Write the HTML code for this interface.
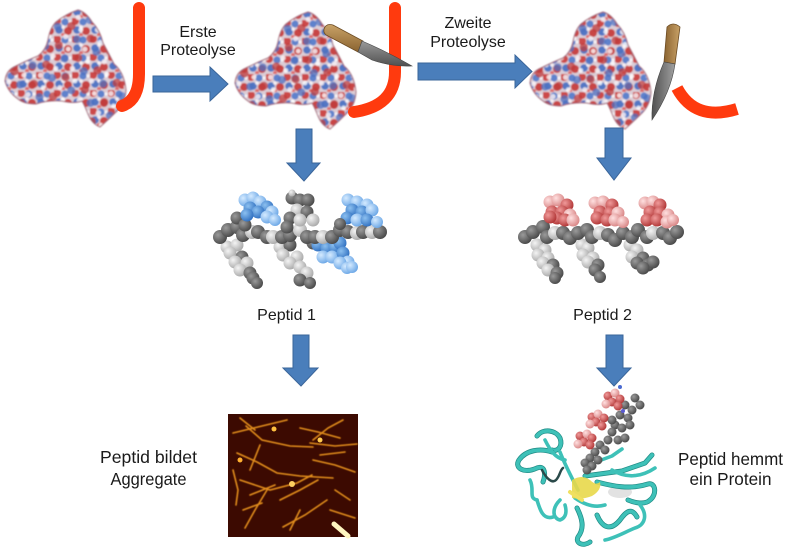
<!DOCTYPE html>
<html><head><meta charset="utf-8">
<style>
html,body{margin:0;padding:0;background:#fff;}
svg{display:block;}
.t{font-family:"Liberation Sans",Arial,sans-serif;font-size:16px;fill:#1a1a1a;}
.c{font-family:"Liberation Sans",Arial,sans-serif;font-size:17.5px;fill:#1a1a1a;}
.d{fill:url(#gD)}.l{fill:url(#gL)}.b{fill:url(#gB)}.bl{fill:url(#gBl)}.r{fill:url(#gR)}.p{fill:url(#gP)}
.rib{fill:none;stroke:#3ec1b8;stroke-width:3.6;stroke-linecap:round;stroke-linejoin:round}
.ribd{fill:none;stroke:#1f8a84;stroke-width:5;stroke-linecap:round;stroke-linejoin:round}
.fib{fill:none;stroke:#e08c1c;stroke-width:1.6;stroke-linecap:round}
</style></head><body>
<svg width="800" height="556" viewBox="0 0 800 556" xmlns="http://www.w3.org/2000/svg">
<defs>
<radialGradient id="gD" cx="35%" cy="35%" r="70%"><stop offset="0" stop-color="#9a9a9a"/><stop offset="1" stop-color="#474747"/></radialGradient>
<radialGradient id="gL" cx="35%" cy="35%" r="70%"><stop offset="0" stop-color="#f4f4f4"/><stop offset="1" stop-color="#a8a8a8"/></radialGradient>
<radialGradient id="gB" cx="35%" cy="35%" r="70%"><stop offset="0" stop-color="#8cc0f0"/><stop offset="1" stop-color="#2f6fc0"/></radialGradient>
<radialGradient id="gBl" cx="35%" cy="35%" r="70%"><stop offset="0" stop-color="#d4eaff"/><stop offset="1" stop-color="#6aa6e6"/></radialGradient>
<radialGradient id="gR" cx="35%" cy="35%" r="70%"><stop offset="0" stop-color="#f09a9a"/><stop offset="1" stop-color="#b03434"/></radialGradient>
<radialGradient id="gP" cx="35%" cy="35%" r="70%"><stop offset="0" stop-color="#ffe0e0"/><stop offset="1" stop-color="#d88484"/></radialGradient>
<linearGradient id="hand" x1="0" y1="0" x2="0" y2="1"><stop offset="0" stop-color="#c9a267"/><stop offset="1" stop-color="#8a6330"/></linearGradient>
<linearGradient id="blade" x1="0" y1="0" x2="0" y2="1"><stop offset="0" stop-color="#9a9a9a"/><stop offset="1" stop-color="#505050"/></linearGradient>
<linearGradient id="hand2" x1="0" y1="0" x2="1" y2="0"><stop offset="0" stop-color="#8a6330"/><stop offset="1" stop-color="#c9a267"/></linearGradient>
<linearGradient id="blade2" x1="0" y1="0" x2="1" y2="0"><stop offset="0" stop-color="#505050"/><stop offset="1" stop-color="#a0a0a0"/></linearGradient>
<pattern id="pa" width="18" height="18" patternUnits="userSpaceOnUse">
<rect width="18" height="18" fill="#dccdd6"/>
<circle cx="3" cy="3" r="4" fill="#cc4848"/>
<circle cx="11" cy="4" r="3.6" fill="#5f82cc"/>
<circle cx="5" cy="12" r="3.8" fill="#5377c4"/>
<circle cx="14" cy="13" r="4" fill="#c84545"/>
<circle cx="16" cy="4" r="1.6" fill="#f6f2f4"/>
<circle cx="9" cy="17" r="2" fill="#de6c6c"/>
<circle cx="9" cy="9" r="1.8" fill="#f4eef2"/>
</pattern>
<pattern id="pb" width="23" height="23" patternUnits="userSpaceOnUse" patternTransform="rotate(33)">
<circle cx="5" cy="6" r="4.2" fill="#bf3a3a" opacity=".75"/>
<circle cx="17" cy="14" r="4" fill="#4d70c0" opacity=".75"/>
<circle cx="15" cy="4" r="2.4" fill="#fff" opacity=".8"/>
<circle cx="6" cy="18" r="2.6" fill="#f6eef2" opacity=".85"/>
</pattern>
<path id="blob" d="M78,10 Q86,12 92,22 Q100,30 103,43 Q108,52 114,64 Q124,72 126,90 Q125,104 116,112 Q108,120 100,127 Q92,124 88,114 Q84,104 82,101 Q74,104 62,101 Q48,100 36,104 Q24,104 18,99 Q8,92 5,81 Q6,70 16,66 Q28,60 38,56 Q46,50 48,40 Q50,28 56,22 Q66,14 78,10 Z"/>
<filter id="soft" x="-5%" y="-5%" width="110%" height="110%"><feGaussianBlur stdDeviation="0.7"/></filter>
<filter id="blur1" x="-10%" y="-10%" width="120%" height="120%"><feGaussianBlur stdDeviation="0.5"/></filter>
</defs>
<rect width="800" height="556" fill="#fff"/>

<!-- Proteins -->
<g filter="url(#soft)">
<use href="#blob" fill="url(#pa)"/>
<use href="#blob" fill="url(#pb)"/>
<use href="#blob" fill="none" stroke="#a06474" stroke-width="1"/>
</g>
<g transform="translate(230,2)" filter="url(#soft)">
<use href="#blob" fill="url(#pa)"/>
<use href="#blob" fill="url(#pb)"/>
<use href="#blob" fill="none" stroke="#a06474" stroke-width="1"/>
</g>
<g transform="translate(525,2)" filter="url(#soft)">
<use href="#blob" fill="url(#pa)"/>
<use href="#blob" fill="url(#pb)"/>
<use href="#blob" fill="none" stroke="#a06474" stroke-width="1"/>
</g>

<!-- Red peptide chains -->
<path d="M139,8 L139,74 Q139,100 122,106" fill="none" stroke="#ff3a0e" stroke-width="12" stroke-linecap="round"/>
<path d="M395,8 L395,72 Q395,106 354,112" fill="none" stroke="#ff3a0e" stroke-width="12" stroke-linecap="round"/>
<path d="M677,88 Q695,122 737,109" fill="none" stroke="#ff3a0e" stroke-width="12"/>

<!-- Knife 1 -->
<path d="M324,29 Q326,23 333,25 L363,41 L358,52 L328,36 Q323,34 324,29 Z" fill="url(#hand)" stroke="#6b4a22" stroke-width="0.8"/>
<path d="M362,41 Q388,52 412,66 Q392,67 372,60 L358,52 Z" fill="url(#blade)" stroke="#444" stroke-width="0.6"/>
<!-- Knife 2 -->
<path d="M667,27 Q673,21 680,27 L675,64 L664,62 Z" fill="url(#hand2)" stroke="#6b4a22" stroke-width="0.8"/>
<path d="M664,62 L675,64 Q671,92 652,120 Q651,92 664,62 Z" fill="url(#blade2)" stroke="#444" stroke-width="0.6"/>

<!-- Arrows -->
<g fill="#4a7ebb" stroke="#3a659a" stroke-width="1">
<polygon points="153,76 210,76 210,67 228,84 210,101 210,92 153,92"/>
<polygon points="418,63 515,63 515,55 532,71.5 515,88 515,80 418,80"/>
<polygon points="296,129 312,129 312,163 320,163 304,181 287,163 296,163"/>
<polygon points="293,335 309,335 309,368 318,368 301,386 283,368 293,368"/>
<polygon points="605,128 623,128 623,158 631,158 614,180 597,158 605,158"/>
<polygon points="606,335 623,335 623,368 631,368 614,386 597,368 606,368"/>
</g>

<!-- Labels -->
<text class="t" x="198" y="37" text-anchor="middle">Erste</text>
<text class="t" x="198" y="55" text-anchor="middle">Proteolyse</text>
<text class="t" x="468" y="28" text-anchor="middle">Zweite</text>
<text class="t" x="468" y="47" text-anchor="middle">Proteolyse</text>
<text class="t" x="286.5" y="320" text-anchor="middle">Peptid 1</text>
<text class="t" x="602.5" y="320" text-anchor="middle">Peptid 2</text>
<text class="c" x="148.5" y="463" text-anchor="middle" textLength="97" lengthAdjust="spacingAndGlyphs">Peptid bildet</text>
<text class="c" x="148.5" y="485" text-anchor="middle" textLength="76" lengthAdjust="spacingAndGlyphs">Aggregate</text>
<text class="c" x="730.5" y="465" text-anchor="middle" textLength="105" lengthAdjust="spacingAndGlyphs">Peptid hemmt</text>
<text class="c" x="730.5" y="485" text-anchor="middle" textLength="82" lengthAdjust="spacingAndGlyphs">ein Protein</text>

<!-- Peptide 1 -->
<g>
<circle class="l" cx="227" cy="247" r="6.5"/><circle class="l" cx="237" cy="245" r="6.5"/><circle class="l" cx="230" cy="253" r="6.5"/>
<circle class="d" cx="242" cy="257" r="6.5"/><circle class="l" cx="235" cy="262" r="6.5"/><circle class="l" cx="247" cy="263" r="6.5"/>
<circle class="l" cx="240" cy="270" r="6.5"/><circle class="d" cx="250" cy="273" r="6.5"/><circle class="d" cx="253" cy="278" r="6.5"/><circle class="d" cx="257" cy="283" r="6"/>
<circle class="l" cx="280" cy="247" r="6.5"/><circle class="d" cx="290" cy="245" r="6.5"/><circle class="l" cx="283" cy="255" r="6.5"/>
<circle class="l" cx="297" cy="257" r="6.5"/><circle class="l" cx="290" cy="263" r="6.5"/><circle class="l" cx="300" cy="267" r="6.5"/>
<circle class="l" cx="307" cy="273" r="6.5"/><circle class="d" cx="300" cy="280" r="6.5"/><circle class="d" cx="310" cy="283" r="6"/><circle class="d" cx="313" cy="243" r="6.5"/>
<circle class="b" cx="318" cy="245" r="6.5"/><circle class="b" cx="327" cy="248" r="6.5"/><circle class="b" cx="335" cy="247" r="6.5"/>
<circle class="b" cx="340" cy="243" r="6.5"/><circle class="bl" cx="323" cy="257" r="6.5"/><circle class="bl" cx="332" cy="257" r="6.5"/>
<circle class="b" cx="343" cy="253" r="6.5"/><circle class="bl" cx="348" cy="262" r="6.5"/><circle class="bl" cx="340" cy="263" r="6.5"/>
<circle class="bl" cx="347" cy="268" r="6"/><circle class="bl" cx="352" cy="267" r="6"/>
<circle class="d" cx="220" cy="237" r="7"/><circle class="d" cx="228" cy="230" r="7"/><circle class="d" cx="237" cy="227" r="7"/>
<circle class="d" cx="243" cy="235" r="7"/><circle class="l" cx="252" cy="232" r="7"/><circle class="d" cx="258" cy="232" r="7"/>
<circle class="d" cx="267" cy="237" r="7"/><circle class="l" cx="273" cy="237" r="7"/><circle class="d" cx="282" cy="237" r="7"/>
<circle class="d" cx="290" cy="235" r="7"/><circle class="l" cx="300" cy="230" r="7"/><circle class="d" cx="307" cy="237" r="7"/>
<circle class="d" cx="315" cy="237" r="7"/><circle class="l" cx="323" cy="237" r="7"/><circle class="d" cx="332" cy="237" r="7"/>
<circle class="d" cx="340" cy="230" r="7"/><circle class="d" cx="348" cy="232" r="7"/><circle class="l" cx="357" cy="233" r="7"/>
<circle class="d" cx="363" cy="232" r="7"/><circle class="l" cx="372" cy="232" r="7"/><circle class="d" cx="380" cy="232" r="7"/>
<circle class="d" cx="237" cy="218" r="6.5"/><circle class="d" cx="245" cy="225" r="6.5"/>
<circle class="bl" cx="245" cy="200" r="6.5"/><circle class="bl" cx="253" cy="198" r="6.5"/><circle class="bl" cx="260" cy="202" r="6.5"/>
<circle class="b" cx="267" cy="207" r="6.5"/><circle class="bl" cx="272" cy="212" r="6.5"/><circle class="b" cx="250" cy="208" r="6.5"/>
<circle class="b" cx="258" cy="212" r="6.5"/><circle class="b" cx="247" cy="215" r="6.5"/><circle class="bl" cx="267" cy="217" r="6.5"/>
<circle class="bl" cx="275" cy="220" r="6"/>
<circle class="d" cx="292" cy="198" r="6.5"/><circle class="d" cx="300" cy="200" r="6.5"/><circle class="d" cx="308" cy="200" r="6.5"/>
<circle class="l" cx="297" cy="210" r="6.5"/><circle class="d" cx="307" cy="212" r="6.5"/><circle class="d" cx="290" cy="218" r="6.5"/>
<circle class="l" cx="300" cy="220" r="6.5"/><circle class="l" cx="313" cy="220" r="6.5"/><circle class="d" cx="287" cy="227" r="6.5"/>
<circle class="l" cx="292" cy="193" r="3.5"/>
<circle class="bl" cx="348" cy="200" r="6.5"/><circle class="bl" cx="357" cy="202" r="6.5"/><circle class="bl" cx="367" cy="205" r="6.5"/>
<circle class="b" cx="352" cy="210" r="6.5"/><circle class="b" cx="362" cy="212" r="6.5"/><circle class="bl" cx="372" cy="210" r="6.5"/>
<circle class="b" cx="347" cy="218" r="6.5"/><circle class="bl" cx="357" cy="220" r="6.5"/><circle class="b" cx="367" cy="220" r="6.5"/>
<circle class="bl" cx="377" cy="222" r="6"/><circle class="d" cx="340" cy="224" r="6"/>
</g>

<!-- Peptide 2 -->
<g>
<circle class="l" cx="537" cy="245" r="6.5"/><circle class="l" cx="545" cy="250" r="6.5"/><circle class="l" cx="538" cy="255" r="6.5"/>
<circle class="l" cx="548" cy="258" r="6.5"/><circle class="l" cx="543" cy="263" r="6.5"/><circle class="d" cx="553" cy="265" r="6.5"/>
<circle class="l" cx="548" cy="270" r="6.5"/><circle class="d" cx="557" cy="273" r="6.5"/><circle class="d" cx="555" cy="278" r="6"/>
<circle class="l" cx="582" cy="245" r="6.5"/><circle class="l" cx="588" cy="248" r="6.5"/><circle class="l" cx="583" cy="255" r="6.5"/>
<circle class="l" cx="593" cy="258" r="6.5"/><circle class="l" cx="588" cy="262" r="6.5"/><circle class="d" cx="598" cy="265" r="6.5"/>
<circle class="d" cx="595" cy="270" r="6.5"/><circle class="d" cx="600" cy="277" r="6"/>
<circle class="l" cx="630" cy="245" r="6.5"/><circle class="l" cx="637" cy="250" r="6.5"/><circle class="l" cx="632" cy="257" r="6.5"/>
<circle class="d" cx="643" cy="258" r="6.5"/><circle class="d" cx="637" cy="263" r="6.5"/><circle class="d" cx="648" cy="265" r="6.5"/>
<circle class="d" cx="653" cy="262" r="6.5"/><circle class="d" cx="643" cy="268" r="6.5"/>
<circle class="d" cx="525" cy="237" r="7"/><circle class="d" cx="533" cy="232" r="7"/><circle class="d" cx="543" cy="227" r="7"/>
<circle class="d" cx="547" cy="237" r="7"/><circle class="l" cx="555" cy="233" r="7"/><circle class="d" cx="563" cy="233" r="7"/>
<circle class="d" cx="570" cy="238" r="7"/><circle class="d" cx="578" cy="233" r="7"/><circle class="d" cx="587" cy="230" r="7"/>
<circle class="d" cx="592" cy="237" r="7"/><circle class="l" cx="600" cy="233" r="7"/><circle class="d" cx="608" cy="235" r="7"/>
<circle class="d" cx="615" cy="240" r="7"/><circle class="d" cx="623" cy="233" r="7"/><circle class="d" cx="632" cy="237" r="7"/>
<circle class="d" cx="638" cy="230" r="7"/><circle class="d" cx="647" cy="237" r="7"/><circle class="l" cx="653" cy="233" r="7"/>
<circle class="d" cx="663" cy="233" r="7"/><circle class="d" cx="670" cy="238" r="7"/><circle class="d" cx="677" cy="232" r="7"/>
<circle class="p" cx="550" cy="202" r="6.5"/><circle class="p" cx="558" cy="200" r="6.5"/><circle class="r" cx="567" cy="205" r="6.5"/>
<circle class="r" cx="552" cy="212" r="6.5"/><circle class="r" cx="562" cy="212" r="6.5"/><circle class="p" cx="570" cy="215" r="6.5"/>
<circle class="r" cx="557" cy="218" r="6.5"/><circle class="r" cx="565" cy="220" r="6.5"/><circle class="p" cx="573" cy="220" r="6.5"/>
<circle class="r" cx="550" cy="217" r="6.5"/>
<circle class="p" cx="595" cy="203" r="6.5"/><circle class="p" cx="603" cy="202" r="6.5"/><circle class="r" cx="612" cy="205" r="6.5"/>
<circle class="r" cx="600" cy="212" r="6.5"/><circle class="r" cx="610" cy="213" r="6.5"/><circle class="p" cx="618" cy="213" r="6.5"/>
<circle class="r" cx="597" cy="218" r="6.5"/><circle class="r" cx="607" cy="220" r="6.5"/><circle class="p" cx="615" cy="220" r="6.5"/>
<circle class="p" cx="623" cy="222" r="6"/>
<circle class="p" cx="645" cy="203" r="6.5"/><circle class="p" cx="653" cy="202" r="6.5"/><circle class="r" cx="660" cy="205" r="6.5"/>
<circle class="r" cx="650" cy="212" r="6.5"/><circle class="r" cx="660" cy="213" r="6.5"/><circle class="p" cx="668" cy="215" r="6.5"/>
<circle class="r" cx="647" cy="220" r="6.5"/><circle class="r" cx="657" cy="220" r="6.5"/><circle class="p" cx="667" cy="222" r="6.5"/>
<circle class="p" cx="673" cy="220" r="6"/>
</g>

<!-- AFM image -->
<rect x="228" y="414" width="130" height="123" fill="#3c0a01"/>
<g filter="url(#blur1)">
<path class="fib" d="M233,433 L262,426 L287,420"/>
<path class="fib" d="M246,426 L262,440 L290,446 L313,447"/>
<path class="fib" d="M310,443 L335,446 L357,444"/>
<path class="fib" d="M313,440 L328,428 L343,420"/>
<path class="fib" d="M300,428 L318,432 L340,438"/>
<path class="fib" d="M237,453 L257,462 L277,473 L300,476 L333,478"/>
<path class="fib" d="M240,480 L270,490 L297,483 L312,475"/>
<path class="fib" d="M267,490 L255,510 L245,528"/>
<path class="fib" d="M280,500 L300,490 L318,480"/>
<path class="fib" d="M283,527 L305,515 L327,500"/>
<path class="fib" d="M243,510 L262,503"/>
<path class="fib" d="M313,460 L335,465 L355,472"/>
<path class="fib" d="M233,470 L238,490 L236,505"/>
<path class="fib" d="M300,510 L290,530"/>
<path class="fib" d="M330,510 L355,518"/>
<path class="fib" d="M260,445 L250,470"/>
<path class="fib" d="M240,418 L255,430"/>
<path class="fib" d="M335,490 L350,500"/>
<path class="fib" d="M250,495 L275,485"/>
<path class="fib" d="M320,455 L345,452"/>
</g>
<circle cx="274" cy="429" r="2.5" fill="#ffc040"/>
<circle cx="320" cy="440" r="2.5" fill="#ffcc50"/>
<circle cx="292" cy="484" r="3" fill="#ffd060"/>
<circle cx="240" cy="460" r="2.5" fill="#ffb030"/>
<path d="M334,524 L348,536" stroke="#fff6c0" stroke-width="5" stroke-linecap="round"/>

<!-- Ribbon protein -->
<g>
<ellipse cx="620" cy="492" rx="12" ry="6" fill="#e2e2e2"/>
<path class="ribd" d="M537,436 C543,428 556,430 560,438 C563,446 558,452 552,450"/>
<path class="rib" d="M537,436 C543,428 556,430 560,438 C563,446 558,452 552,450"/>
<path class="ribd" d="M552,452 C540,448 526,450 519,460 C514,468 524,474 537,468 C545,465 546,474 543,482"/>
<path class="rib" d="M552,452 C540,448 526,450 519,460 C514,468 524,474 537,468 C545,465 546,474 543,482"/>
<path d="M542,470 C546,478 552,484 556,480 C560,476 560,470 563,468" fill="none" stroke="#2a4a4a" stroke-width="2.5" stroke-linecap="round"/>
<path class="rib" d="M545,440 C550,450 555,458 565,460"/>
<path class="rib" d="M560,452 C565,465 572,478 578,490"/>
<path class="ribd" d="M585,476 L622,471 L645,463 L652,455"/>
<path class="rib" d="M585,476 L622,471 L645,463 L652,455"/>
<path class="rib" d="M612,470 C625,478 640,478 655,468"/>
<path class="rib" d="M596,462 L612,456 L622,449"/>
<path class="ribd" d="M597,482 C612,486 630,490 648,484 C656,482 657,495 650,500 C645,505 635,503 628,500"/>
<path class="rib" d="M597,482 C612,486 630,490 648,484 C656,482 657,495 650,500 C645,505 635,503 628,500"/>
<path class="rib" d="M560,500 C552,508 552,518 560,520 C566,518 567,512 565,505"/>
<path class="ribd" d="M577,508 C582,518 585,528 578,537 C575,543 583,547 590,542"/>
<path class="rib" d="M577,508 C582,518 585,528 578,537 C575,543 583,547 590,542"/>
<path class="ribd" d="M597,515 C602,527 610,532 620,520 C627,510 632,508 637,517"/>
<path class="rib" d="M597,515 C602,527 610,532 620,520 C627,510 632,508 637,517"/>
<path class="rib" d="M537,500 C540,510 543,520 553,517"/>
<path class="rib" d="M575,498 C585,505 595,508 605,505"/>
<path class="rib" d="M640,505 C648,515 645,525 635,528 C625,532 615,538 605,540"/>
<path class="rib" d="M530,480 C535,490 528,498 537,500"/>
<path d="M572,480 Q582,474 590,480 Q596,486 600,482 Q602,490 592,496 Q582,500 572,498 Z" fill="#e8d84a" opacity=".9"/>
<path d="M570,492 L582,500" stroke="#f0e060" stroke-width="4" stroke-linecap="round"/>
</g>
<!-- peptide on protein -->
<g>
<circle class="d" cx="635" cy="398" r="4.5"/><circle class="d" cx="640" cy="405" r="4.5"/><circle class="d" cx="632" cy="410" r="4.5"/>
<circle class="d" cx="625" cy="405" r="4.5"/><circle class="d" cx="628" cy="418" r="4.5"/><circle class="d" cx="620" cy="415" r="4.5"/>
<circle class="d" cx="615" cy="425" r="4.5"/><circle class="d" cx="622" cy="428" r="4.5"/><circle class="d" cx="612" cy="432" r="4.5"/>
<circle class="d" cx="608" cy="440" r="4.5"/><circle class="d" cx="618" cy="440" r="4.5"/><circle class="d" cx="600" cy="445" r="4.5"/>
<circle class="d" cx="605" cy="450" r="4.5"/><circle class="d" cx="595" cy="452" r="4.5"/><circle class="d" cx="590" cy="458" r="4.5"/>
<circle class="d" cx="598" cy="460" r="4.5"/><circle class="d" cx="585" cy="463" r="4.5"/><circle class="d" cx="592" cy="466" r="4.5"/>
<circle class="d" cx="587" cy="470" r="4.5"/><circle class="d" cx="612" cy="420" r="4.5"/><circle class="d" cx="630" cy="425" r="4.5"/>
<circle class="d" cx="625" cy="438" r="4.5"/>
<circle class="r" cx="608" cy="396" r="4.5"/><circle class="p" cx="615" cy="393" r="4.5"/><circle class="r" cx="620" cy="399" r="4.5"/>
<circle class="r" cx="612" cy="402" r="4.5"/><circle class="p" cx="606" cy="404" r="4.5"/><circle class="r" cx="618" cy="406" r="4.5"/>
<circle class="r" cx="592" cy="417" r="4.5"/><circle class="p" cx="598" cy="414" r="4.5"/><circle class="r" cx="604" cy="418" r="4.5"/>
<circle class="r" cx="596" cy="422" r="4.5"/><circle class="p" cx="590" cy="424" r="4.5"/><circle class="r" cx="602" cy="426" r="4.5"/>
<circle class="r" cx="580" cy="436" r="4.5"/><circle class="p" cx="587" cy="434" r="4.5"/><circle class="r" cx="592" cy="438" r="4.5"/>
<circle class="r" cx="584" cy="442" r="4.5"/><circle class="p" cx="578" cy="444" r="4.5"/><circle class="r" cx="590" cy="445" r="4.5"/>
<circle cx="620" cy="387" r="2" fill="#4a6ad0"/><circle cx="623" cy="411" r="2" fill="#5a5ad0"/>
</g>
</svg>
</body></html>
